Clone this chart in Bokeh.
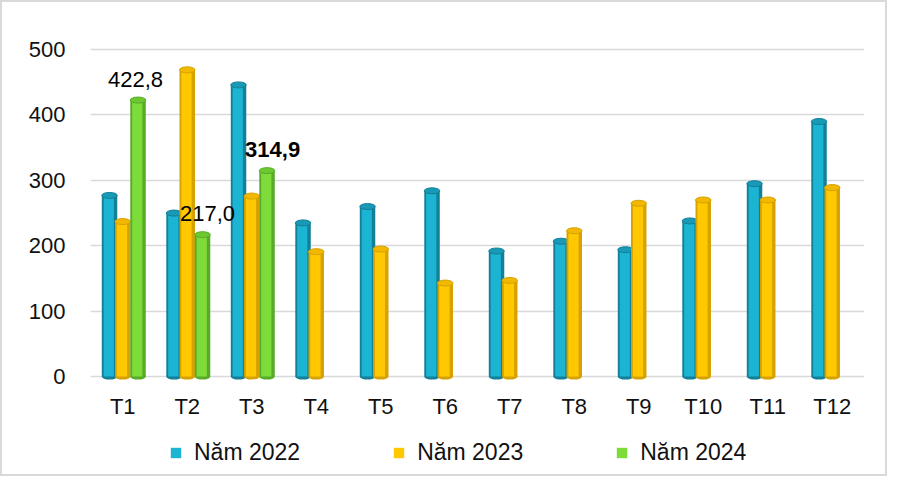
from bokeh.plotting import figure
from bokeh.models import FactorRange, ColumnDataSource, Legend, LegendItem, Range1d, FixedTicker
from bokeh.transform import dodge
from bokeh.core.properties import value
from bokeh.embed import file_html
from bokeh.resources import INLINE

months = ["T1", "T2", "T3", "T4", "T5", "T6", "T7", "T8", "T9", "T10", "T11", "T12"]
y2022 = [277, 250, 446, 235, 260, 284, 192, 207, 194, 238, 295, 390]
y2023 = [237, 469, 276, 191, 195, 143, 147, 223, 265, 270, 270, 289]
months_2024 = ["T1", "T2", "T3"]
y2024 = [422.8, 217.0, 314.9]
label_text = ["422,8", "217,0", "314,9"]
y_ticks = [0, 100, 200, 300, 400, 500]
series_names = ["Năm 2022", "Năm 2023", "Năm 2024"]

FONT = "Liberation Sans"

# frame extends to the bottom of the canvas so the legend (drawn in the frame) stays visible
p = figure(x_range=FactorRange(*months), y_range=Range1d(-155.8, 520),
           width=887, height=476, output_backend="svg", toolbar_location=None,
           x_axis_location=None,
           min_border_left=88, min_border_right=25, min_border_top=34, min_border_bottom=0)
p.styles = {"border": "2px solid #d9d9d9"}
p.outline_line_color = None
p.background_fill_color = "white"
p.xgrid.grid_line_color = None
p.ygrid.grid_line_color = "#d9d9d9"
p.ygrid.grid_line_width = 1.6
p.yaxis.ticker = FixedTicker(ticks=y_ticks)
ax = p.yaxis[0]
ax.axis_line_color = None
ax.major_tick_line_color = None
ax.minor_tick_line_color = None
ax.major_tick_out = 0
ax.major_tick_in = 0
ax.major_label_text_font = FONT
ax.major_label_text_font_size = "22px"
ax.major_label_text_color = "#111111"
ax.major_label_standoff = 25

W = 0.24
styles = [
    # offset, main, edge, top
    (-0.205, "#1cb4d3", "#137f98", "#1899b6"),
    (0.0, "#ffc800", "#d6a200", "#f2b800"),
    (0.237, "#7ddb3a", "#58ab27", "#6cc830"),
]
data = [(months, y2022), (months, y2023), (months_2024, y2024)]

legend_renderers = []
for (cats, vals), (off, main, edge, topc) in zip(data, styles):
    src = ColumnDataSource(dict(m=cats, v=vals, z=[0] * len(vals)))
    xs = dodge("m", off, range=p.x_range)
    p.ellipse(x=xs, y="z", width=W, height=6, height_units="screen", source=src,
              fill_color=edge, line_color=None)
    p.vbar(x=xs, top="v", bottom=0, width=W, source=src, fill_color=edge, line_color=None)
    main_r = p.vbar(x=dodge("m", off - 0.012, range=p.x_range), top="v", bottom=0,
                    width=W * 0.66, source=src, fill_color=main, line_color=None)
    legend_renderers.append(main_r)
    p.ellipse(x=xs, y="v", width=W, height=6, height_units="screen", source=src,
              fill_color=topc, line_color=edge, line_width=1)

# category labels under the bars (x axis)
cat_src = ColumnDataSource(dict(m=months, z=[0] * len(months)))
p.text(x="m", y="z", text="m", source=cat_src, y_offset=30,
       text_align="center", text_baseline="middle",
       text_font_size=value("22px"), text_font=value(FONT), text_color="#111111")

# data labels for 2024
lab_offsets = [(-2.5, -20.5, "normal"), (5, -21, "normal"), (5.6, -21, "bold")]
for i, (dx, dy, fs) in enumerate(lab_offsets):
    s = ColumnDataSource(dict(m=[months_2024[i]], v=[y2024[i]], t=[label_text[i]]))
    p.text(x=dodge("m", styles[2][0], range=p.x_range), y="v", text="t", source=s,
           x_offset=dx, y_offset=dy, text_align="center", text_baseline="middle",
           text_font_size=value("22px"), text_font=value(FONT), text_font_style=fs,
           text_color="#000000")

legend = Legend(items=[LegendItem(label=n, renderers=[r]) for n, r in zip(series_names, legend_renderers)],
                orientation="horizontal", location=(79, 12))
legend.glyph_width = 13
legend.glyph_height = 13
legend.label_standoff = 12
legend.spacing = 92
legend.padding = 0
legend.margin = 0
legend.border_line_color = None
legend.background_fill_alpha = 0
legend.label_text_font = FONT
legend.label_text_font_size = "23px"
legend.label_text_color = "#111111"
legend.label_height = 26
p.add_layout(legend, "center")

open("out.html", "w").write(file_html(p, INLINE))
